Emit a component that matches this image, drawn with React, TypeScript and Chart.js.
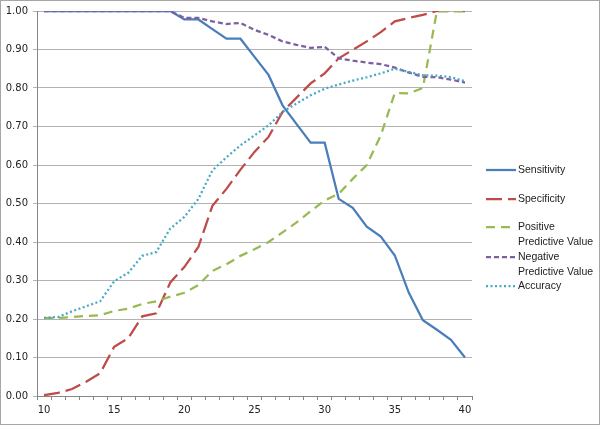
import React, { useEffect, useRef } from "react";
import { Chart, registerables } from "chart.js";

Chart.register(...registerables);

const categories = [
  "10", "11", "12", "13", "14", "15", "16", "17", "18", "19", "20",
  "21", "22", "23", "24", "25", "26", "27", "28", "29", "30",
  "31", "32", "33", "34", "35", "36", "37", "38", "39", "40",
];

const sensitivity = [
  1, 1, 1, 1, 1, 1, 1, 1, 1, 1, 0.978,
  0.978, 0.953, 0.928, 0.928, 0.881, 0.834, 0.755, 0.706, 0.658, 0.658,
  0.512, 0.489, 0.44, 0.414, 0.365, 0.268, 0.197, 0.172, 0.146, 0.1,
];

const specificity = [
  0.002, 0.008, 0.018, 0.037, 0.059, 0.128, 0.15, 0.207, 0.215, 0.295, 0.335,
  0.387, 0.494, 0.538, 0.588, 0.634, 0.673, 0.738, 0.775, 0.812, 0.838,
  0.877, 0.899, 0.921, 0.945, 0.973, 0.982, 0.99, 1, 1, 1,
];

const ppv = [
  0.202, 0.203, 0.205, 0.208, 0.21, 0.221, 0.227, 0.239, 0.246, 0.258, 0.268,
  0.288, 0.325, 0.342, 0.364, 0.381, 0.4, 0.425, 0.451, 0.48, 0.508,
  0.525, 0.564, 0.6, 0.677, 0.787, 0.786, 0.8, 1, 1, 1,
];

const npv = [
  1, 1, 1, 1, 1, 1, 1, 1, 1, 1, 0.982,
  0.982, 0.973, 0.966, 0.969, 0.951, 0.938, 0.921, 0.912, 0.904, 0.907,
  0.877, 0.871, 0.866, 0.862, 0.853, 0.84, 0.829, 0.828, 0.822, 0.814,
];

const accuracy = [
  0.203, 0.205, 0.22, 0.233, 0.246, 0.298, 0.32, 0.364, 0.374, 0.435, 0.465,
  0.512, 0.586, 0.62, 0.651, 0.677, 0.703, 0.738, 0.76, 0.781, 0.798,
  0.809, 0.819, 0.828, 0.838, 0.85, 0.842, 0.833, 0.832, 0.828, 0.818,
];

const yTicks = [0, 0.1, 0.2, 0.3, 0.4, 0.5, 0.6, 0.7, 0.8, 0.9, 1.0];

const seriesNames = [
  ["Sensitivity"],
  ["Specificity"],
  ["Positive", "Predictive Value"],
  ["Negative", "Predictive Value"],
  ["Accuracy"],
];

const colors = ["#4a7ebb", "#be4b48", "#98b954", "#7d60a0", "#46aac5"];
const dashes: number[][] = [[], [16, 6], [9, 6], [5, 3], [2, 2.5]];

export default function App() {
  const ref = useRef<HTMLCanvasElement | null>(null);

  useEffect(() => {
    document.body.style.margin = "0";
    const canvas = ref.current;
    if (!canvas) return;

    const seriesData = [sensitivity, specificity, ppv, npv, accuracy];

    const legendPlugin = {
      id: "customLegend",
      afterDraw(chart: any) {
        const ctx = chart.ctx;
        ctx.save();
        const legendYs = [170, 199, 227, 257, 286];
        ctx.font = "10.5px 'Liberation Sans', Arial, sans-serif";
        ctx.textBaseline = "middle";
        ctx.fillStyle = "#222";
        seriesNames.forEach((lines, i) => {
          const y = legendYs[i];
          ctx.beginPath();
          ctx.strokeStyle = colors[i];
          ctx.lineWidth = 2.25;
          ctx.setLineDash(dashes[i]);
          ctx.moveTo(486, y);
          ctx.lineTo(516, y);
          ctx.stroke();
          ctx.setLineDash([]);
          lines.forEach((t, j) => {
            ctx.fillText(t, 518, y + j * 15);
          });
        });
        ctx.restore();
      },
    };

    const borderPlugin = {
      id: "frame",
      afterDraw(chart: any) {
        const ctx = chart.ctx;
        ctx.save();
        ctx.strokeStyle = "#a6a6a6";
        ctx.lineWidth = 1;
        ctx.strokeRect(0.5, 0.5, chart.width - 1, chart.height - 1);
        ctx.restore();
      },
    };

    const chart = new Chart(canvas, {
      type: "line",
      data: {
        labels: categories,
        datasets: seriesData.map((d, i) => ({
          label: seriesNames[i].join(" "),
          data: d,
          borderColor: colors[i],
          backgroundColor: colors[i],
          borderWidth: 2.25,
          borderDash: dashes[i],
          pointRadius: 0,
          tension: 0,
          fill: false,
          order: 4 - i,
        })),
      },
      options: {
        responsive: false,
        animation: false,
        layout: { padding: { top: 10, right: 128, left: 0, bottom: 0 } },
        plugins: {
          legend: { display: false },
          tooltip: { enabled: false },
        },
        scales: {
          x: {
            type: "category",
            offset: true,
            grid: {
              display: true,
              drawOnChartArea: false,
              drawTicks: true,
              offset: true,
              tickLength: 4,
              color: "#868686",
            },
            border: { display: true, color: "#868686", width: 1 },
            ticks: {
              autoSkip: false,
              maxRotation: 0,
              color: "#222",
              padding: 4,
              font: { family: "'DejaVu Sans', sans-serif", size: 10 },
              callback: (_v: any, idx: number) => {
                const lab = categories[idx];
                return Number(lab) % 5 === 0 ? lab : "";
              },
            },
            afterFit: (scale: any) => {
              scale.height = 29;
            },
          },
          y: {
            min: 0,
            max: 1,
            afterBuildTicks: (scale: any) => {
              scale.ticks = yTicks.map((v) => ({ value: v }));
            },
            grid: {
              color: "#b3b3b3",
              lineWidth: 1,
              tickLength: 4,
            },
            border: { display: true, color: "#868686", width: 1 },
            ticks: {
              color: "#222",
              padding: 5,
              font: { family: "'DejaVu Sans', sans-serif", size: 10 },
              callback: (v: any) => Number(v).toFixed(2),
            },
            afterFit: (scale: any) => {
              scale.width = 37;
            },
          },
        },
      },
      plugins: [legendPlugin, borderPlugin],
    });

    return () => chart.destroy();
  }, []);

  return <canvas ref={ref} width={600} height={425} style={{ display: "block" }} />;
}
